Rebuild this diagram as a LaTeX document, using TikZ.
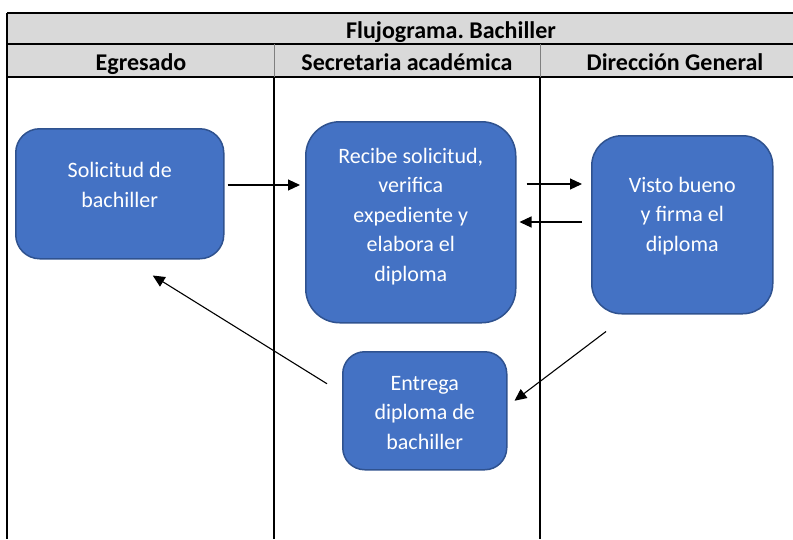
\documentclass[tikz,border=0pt]{standalone}
\usepackage{fontspec}
\setmainfont{Carlito}
\frenchspacing
\usetikzlibrary{arrows.meta,calc}
\definecolor{boxfill}{HTML}{4472C4}
\definecolor{boxline}{HTML}{2F528F}
\definecolor{hdrfill}{HTML}{D9D9D9}
\definecolor{thingray}{HTML}{7F7F7F}
\begin{document}
\begin{tikzpicture}[x=1pt,y=-1pt,
  flowbox/.style={draw=boxline, fill=boxfill, line width=1.5pt, inner sep=0pt, anchor=north west},
  boxtext/.style={text=white, align=center, inner sep=0pt, font=\fontsize{22}{29.5}\selectfont},
  hdr/.style={inner sep=0pt, font=\bfseries\fontsize{24}{28}\selectfont},
  thick line/.style={line width=2.5pt, draw=black},
  lane line/.style={line width=2pt, draw=black},
  arr/.style={line width=1.1pt, -{Triangle[length=12pt,width=11pt]}}
]
\useasboundingbox (0,0) rectangle (793,539);
% header fills
\fill[hdrfill] (7,13) rectangle (793,77);
% header lines
\draw[thick line] (7,13) -- (793,13);
\draw[thick line] (7,44) -- (793,44);
\draw[line width=1.5pt] (7,77) -- (793,77);
\draw[thick line] (7,13) -- (7,539);
\draw[thingray, line width=1pt] (274,44) -- (274,77);
\draw[thingray, line width=1pt] (540,44) -- (540,77);
\draw[lane line] (274,77) -- (274,539);
\draw[lane line] (540,77) -- (540,539);
% header texts
\node[hdr, anchor=base] (title) at (451,38) {Flujograma. Bachiller};
\node[hdr, anchor=base] (lane1) at (141,70) {Egresado};
\node[hdr, anchor=base] (lane2) at (407,70) {Secretaria académica};
\node[hdr, anchor=base] (lane3) at (675,70) {Dirección General};
% boxes
\node[flowbox, rounded corners=24pt, minimum width=208pt, minimum height=130pt] (sol) at (15,128) {};
\node[flowbox, rounded corners=34pt, minimum width=210pt, minimum height=201pt] (rec) at (305,121) {};
\node[flowbox, rounded corners=30pt, minimum width=181pt, minimum height=178pt] (vis) at (591,135) {};
\node[flowbox, rounded corners=22pt, minimum width=164pt, minimum height=118pt] (ent) at (342,351) {};
% box texts
\node[boxtext] (solT) at ($(sol.center)+(0,-9)$) {Solicitud de\\bachiller};
\node[boxtext] (recT) at ($(rec.center)+(0,-6)$) {Recibe solicitud,\\verifica\\expediente y\\elabora el\\diploma};
\node[boxtext] (visT) at ($(vis.center)+(0,-9)$) {Visto bueno\\y firma el\\diploma};
\node[boxtext] (entT) at ($(ent.center)+(0,2)$) {Entrega\\diploma de\\bachiller};
% connectors
\draw[arr, shorten <=3pt, shorten >=5pt] (sol.east |- 0,185) -- (rec.west |- 0,185);
\draw[arr, shorten <=10pt, shorten >=9pt] (rec.east |- 0,184) -- (vis.west |- 0,184);
\draw[arr, shorten <=9pt, shorten >=3pt] (vis.west |- 0,222) -- (rec.east |- 0,222);
\draw[arr] ($(vis.south west)+(15,17)$) -- ($(ent.east)+(7,-10)$);
\draw[arr] ($(ent.west)+(-15,-27)$) -- ($(sol.south)+(33,16)$);
\end{tikzpicture}
\end{document}
